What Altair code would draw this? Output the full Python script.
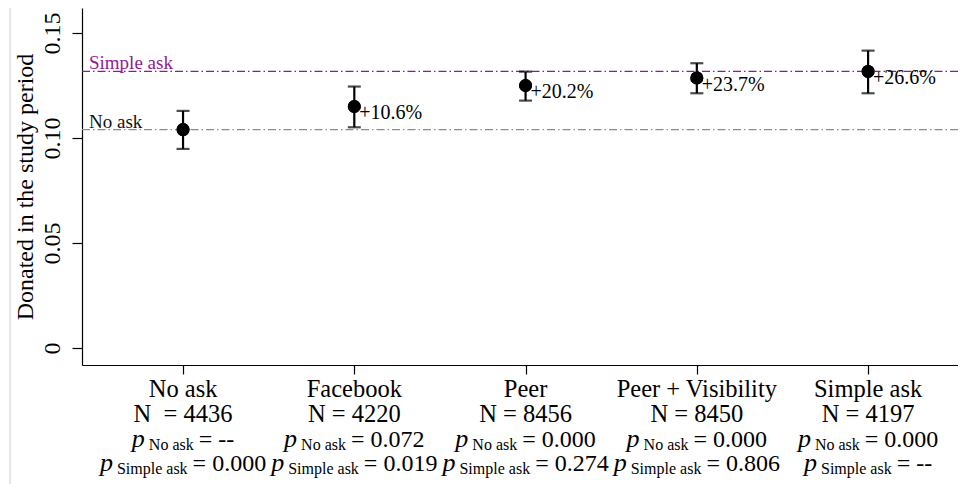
import altair as alt
import pandas as pd

# ---- data ----
categories = ["No ask", "Facebook", "Peer", "Peer + Visibility", "Simple ask"]
n_labels = ["N\u00a0 = 4436", "N = 4220", "N = 8456", "N = 8450", "N = 4197"]
means = [0.104, 0.115, 0.125, 0.1286, 0.1317]
ci_low = [0.0948, 0.1051, 0.1178, 0.1213, 0.1213]
ci_high = [0.1129, 0.1245, 0.1316, 0.1356, 0.1416]
pct_labels = ["", "+10.6%", "+20.2%", "+23.7%", "+26.6%"]
p_no_ask = ["--", "0.072", "0.000", "0.000", "0.000"]
p_simple_ask = ["0.000", "0.019", "0.274", "0.806", "--"]
ref_names = ["No ask", "Simple ask"]
ref_values = [means[0], means[4]]
ref_colors = ["#8c8c8c", "#901a90"]
ref_text_colors = ["#111111", "#901a90"]
y_ticks = [0, 0.05, 0.10, 0.15]

FONT = "Liberation Serif"
df = pd.DataFrame({
    "idx": list(range(len(categories))),
    "cat": categories,
    "n": n_labels,
    "mean": means,
    "lo": ci_low,
    "hi": ci_high,
    "pct": pct_labels,
    "p1": p_no_ask,
    "p2": p_simple_ask,
})
ref_df = pd.DataFrame({"name": ref_names, "value": ref_values,
                       "color": ref_colors, "tcolor": ref_text_colors})

xscale = alt.Scale(domain=[-0.59, 4.525], nice=False, zero=False)
yscale = alt.Scale(domain=[-0.0081, 0.1619], nice=False, zero=False)

x_axis = alt.Axis(values=[0, 1, 2, 3, 4], labels=False, title=None, tickSize=9,
                  domainColor="black", tickColor="black", grid=False,
                  domainWidth=1.2, tickWidth=1.2)
y_axis = alt.Axis(values=y_ticks, grid=False, title="Donated in the study period",
                  labelExpr="datum.value == 0 ? '0' : format(datum.value, '.2f')",
                  labelAngle=270, labelAlign="center", labelBaseline="bottom",
                  labelFont=FONT, labelFontSize=24, labelColor="black", labelPadding=8,
                  titleFont=FONT, titleFontSize=24, titleFontWeight="normal",
                  titleColor="black", titlePadding=3, tickSize=10,
                  domainColor="black", tickColor="black", domainWidth=1.2, tickWidth=1.2)


def X():
    return alt.X("idx:Q", scale=xscale, axis=x_axis, title=None)


def Y(f):
    return alt.Y(f, scale=yscale, axis=y_axis, title="Donated in the study period")


base = alt.Chart(df)

layers = []

# points layer first so the axes are attached
layers.append(base.mark_circle(color="black", opacity=1, size=170).encode(
    x=X(), y=Y("mean:Q")))

# outer faint border
layers.append(base.mark_rule(color="#e6e6e6", strokeWidth=1).encode(
    x=alt.value(-72), y=alt.value(-8), y2=alt.value(476)))

# reference lines
ref = alt.Chart(ref_df)
layers.append(ref.mark_rule(strokeWidth=1.4, strokeDash=[8, 3, 1.5, 3]).encode(
    y=Y("value:Q"),
    color=alt.Color("color:N", scale=None)))
layers.append(ref.mark_text(align="left", baseline="alphabetic", font=FONT,
                            fontSize=19, dy=-2).encode(
    x=alt.value(7),
    y=Y("value:Q"),
    text="name:N",
    color=alt.Color("tcolor:N", scale=None)))

# error bars
layers.append(base.mark_rule(color="black", strokeWidth=2.2).encode(
    x=X(), y=Y("lo:Q"), y2="hi:Q"))
layers.append(base.mark_tick(color="black", orient="horizontal", size=13, thickness=2.2).encode(
    x=X(), y=Y("lo:Q")))
layers.append(base.mark_tick(color="black", orient="horizontal", size=13, thickness=2.2).encode(
    x=X(), y=Y("hi:Q")))

# points on top
layers.append(base.mark_circle(color="black", opacity=1, size=170).encode(
    x=X(), y=Y("mean:Q")))

# percent labels
layers.append(base.mark_text(align="left", baseline="alphabetic", dx=5, dy=13,
                             font=FONT, fontSize=20, color="black").encode(
    x=X(), y=Y("mean:Q"), text="pct:N"))

# x labels: category and N
MAIN = 24.5
for field, ypix in [("cat", 389), ("n", 414)]:
    layers.append(base.mark_text(align="center", baseline="alphabetic", font=FONT,
                                 fontSize=MAIN, color="black").encode(
        x=X(), y=alt.value(ypix), text=f"{field}:N"))

# p-value lines with subscripts
CW = {'0': .5, '1': .5, '2': .5, '3': .5, '4': .5, '5': .5, '6': .5, '7': .5, '8': .5,
      '9': .5, '.': .25, '=': .564, ' ': .25, '-': .333, 'N': .722, 'o': .5, 'a': .444,
      's': .389, 'k': .5, 'S': .556, 'i': .278, 'm': .778, 'p': .5, 'l': .278, 'e': .444}


def tw(s, size):
    return sum(CW.get(c, .5) for c in s) * size


P_SIZE, SUB_SIZE, REST_SIZE = 26, 16, 24
for field, sub, ypix in [("p1", "No ask", 439), ("p2", "Simple ask", 463)]:
    for i in range(len(categories)):
        val = df.loc[i, field]
        rest = "= " + val
        wp = tw("p", P_SIZE)
        ws = tw(sub, SUB_SIZE)
        wr = tw(rest, REST_SIZE)
        g1, g2 = 4, 5
        total = wp + g1 + ws + g2 + wr
        start = -total / 2
        sel = base.transform_filter(alt.datum.idx == i)
        layers.append(sel.mark_text(align="left", baseline="alphabetic", font=FONT,
                                    fontSize=P_SIZE, fontStyle="italic", color="black",
                                    dx=start).encode(
            x=X(), y=alt.value(ypix), text=alt.value("p")))
        layers.append(sel.mark_text(align="left", baseline="alphabetic", font=FONT,
                                    fontSize=SUB_SIZE, color="black",
                                    dx=start + wp + g1, dy=3).encode(
            x=X(), y=alt.value(ypix), text=alt.value(sub)))
        layers.append(sel.mark_text(align="left", baseline="alphabetic", font=FONT,
                                    fontSize=REST_SIZE, color="black",
                                    dx=start + wp + g1 + ws + g2).encode(
            x=X(), y=alt.value(ypix), text=alt.value(rest)))

chart = alt.layer(*layers).properties(
    width=876, height=357,
    autosize=alt.AutoSizeParams(type="none"),
    padding={"left": 74, "top": 0, "right": 0, "bottom": 119},
    background="white",
).configure_view(stroke=None)

chart.save("out.html", embed_options={"renderer": "svg", "actions": False})
